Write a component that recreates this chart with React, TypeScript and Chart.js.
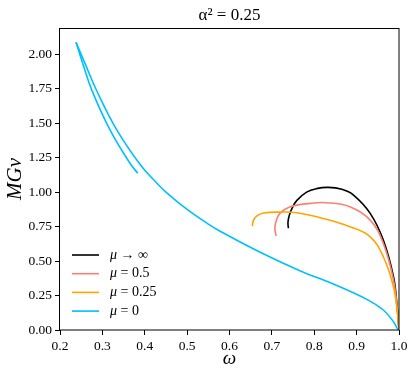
import { useEffect, useRef } from "react";
import { Chart, registerables } from "chart.js";

Chart.register(...registerables);

const titleText = "α² = 0.25";
const xLabel = "ω";
const yLabel = "MGv";
const seriesLabels = ["μ → ∞", "μ = 0.5", "μ = 0.25", "μ = 0"];
const seriesColors = ["#000000", "#FA8072", "#FFA500", "#00BFFF"];

// μ → ∞
const omegaInf = [0.739, 0.738, 0.741, 0.748, 0.759, 0.782, 0.805, 0.833, 0.865, 0.892, 0.932, 0.963, 0.987, 0.995, 1.0];
const mgvInf = [0.738, 0.78, 0.83, 0.885, 0.94, 1.0, 1.025, 1.034, 1.02, 0.98, 0.846, 0.652, 0.386, 0.193, 0.0];

// μ = 0.5
const omegaHalf = [0.71, 0.707, 0.711, 0.719, 0.743, 0.79, 0.829, 0.884, 0.932, 0.963, 0.987, 0.996, 1.0];
const mgvHalf = [0.682, 0.74, 0.8, 0.846, 0.894, 0.918, 0.923, 0.894, 0.797, 0.628, 0.362, 0.15, 0.0];

// μ = 0.25
const omegaQuarter = [0.654, 0.656, 0.664, 0.68, 0.719, 0.759, 0.821, 0.884, 0.932, 0.963, 0.987, 0.996, 1.0];
const mgvQuarter = [0.754, 0.79, 0.825, 0.848, 0.855, 0.85, 0.809, 0.749, 0.676, 0.531, 0.314, 0.13, 0.0];

// μ = 0, main branch (from ω = 1 up to the cusp)
const omegaZeroMain = [1.0, 0.996, 0.987, 0.963, 0.924, 0.845, 0.766, 0.676, 0.578, 0.55, 0.5, 0.45, 0.424, 0.389, 0.334, 0.2866, 0.2614, 0.2378];
const mgvZeroMain = [0.0, 0.012, 0.06, 0.145, 0.222, 0.333, 0.43, 0.558, 0.716, 0.768, 0.874, 1.0, 1.08, 1.2, 1.451, 1.735, 1.915, 2.087];
// μ = 0, inner branch (from the cusp back down)
const omegaZeroInner = [0.2378, 0.2535, 0.2748, 0.318, 0.3652, 0.3834];
const mgvZeroInner = [2.087, 1.935, 1.741, 1.451, 1.209, 1.137];

const xTicks = [0.2, 0.3, 0.4, 0.5, 0.6, 0.7, 0.8, 0.9, 1.0];
const yTicks = [0, 0.25, 0.5, 0.75, 1.0, 1.25, 1.5, 1.75, 2.0];
const xMin = 0.2;
const xMax = 1.0;
const yMin = 0;
const yMax = 2.19;

const FONT = "'Liberation Serif', 'DejaVu Serif', serif";

const toPoints = (xs: number[], ys: number[]) => xs.map((x, i) => ({ x, y: ys[i] }));

const framePlugin = {
  id: "frame",
  afterLayout(chart: any) {
    const ca = chart.chartArea;
    if (chart.titleBlock) {
      chart.titleBlock.left = ca.left;
      chart.titleBlock.right = ca.right;
    }
  },
  afterDatasetsDraw(chart: any) {
    const { ctx, chartArea: ca } = chart;
    ctx.save();
    ctx.strokeStyle = "#000";
    ctx.lineWidth = 1;
    ctx.strokeRect(Math.round(ca.left) - 0.5, Math.round(ca.top) + 0.5, Math.round(ca.right - ca.left) + 0.5, Math.round(ca.bottom - ca.top) - 0.5);
    ctx.restore();
  },
};

const legendPlugin = {
  id: "insideLegend",
  afterDraw(chart: any) {
    const { ctx, chartArea: ca } = chart;
    ctx.save();
    const rowGap = 18.7;
    const firstY = ca.bottom - 75;
    seriesLabels.forEach((label, i) => {
      const y = firstY + i * rowGap;
      ctx.strokeStyle = seriesColors[i];
      ctx.lineWidth = 1.6;
      ctx.beginPath();
      ctx.moveTo(ca.left + 12, y);
      ctx.lineTo(ca.left + 39, y);
      ctx.stroke();
      ctx.fillStyle = "#000";
      ctx.textBaseline = "middle";
      ctx.textAlign = "left";
      const mu = label.charAt(0);
      const rest = label.slice(1);
      ctx.font = `italic 14px ${FONT}`;
      const x0 = ca.left + 50;
      ctx.fillText(mu, x0, y);
      const w = ctx.measureText(mu).width;
      ctx.font = `14px ${FONT}`;
      ctx.fillText(rest, x0 + w, y);
    });
    ctx.restore();
  },
};

export default function App() {
  const ref = useRef<HTMLCanvasElement | null>(null);

  useEffect(() => {
    if (!ref.current) return;
    const lineDs = (label: string, color: string, data: any[], order: number) => ({
      label,
      data,
      borderColor: color,
      backgroundColor: color,
      borderWidth: 1.6,
      showLine: true,
      pointRadius: 0,
      pointHoverRadius: 0,
      tension: 0.4,
      fill: false,
      order,
    });
    const chart = new Chart(ref.current, {
      type: "scatter",
      data: {
        datasets: [
          lineDs(seriesLabels[0], seriesColors[0], toPoints(omegaInf, mgvInf), 4),
          lineDs(seriesLabels[1], seriesColors[1], toPoints(omegaHalf, mgvHalf), 3),
          lineDs(seriesLabels[2], seriesColors[2], toPoints(omegaQuarter, mgvQuarter), 2),
          lineDs(seriesLabels[3], seriesColors[3], toPoints(omegaZeroMain, mgvZeroMain), 1),
          lineDs(seriesLabels[3], seriesColors[3], toPoints(omegaZeroInner, mgvZeroInner), 1),
        ],
      },
      options: {
        animation: false,
        responsive: true,
        maintainAspectRatio: false,
        layout: { padding: { left: 0, right: 17, top: 0, bottom: 0 } },
        plugins: {
          legend: { display: false },
          tooltip: { enabled: false },
          title: {
            display: true,
            text: titleText,
            color: "#000",
            font: { family: FONT, size: 17, weight: "normal" },
            padding: { top: 5.2, bottom: 2.4 },
          },
        },
        scales: {
          x: {
            type: "linear",
            min: xMin,
            max: xMax,
            afterBuildTicks: (s: any) => {
              s.ticks = xTicks.map((v) => ({ value: v }));
            },
            afterFit: (s: any) => {
              s.height = 49;
            },
            ticks: {
              callback: (v: any) => Number(v).toFixed(1),
              color: "#000",
              font: { family: FONT, size: 13.5 },
              padding: 3,
              maxRotation: 0,
              autoSkip: false,
            },
            grid: { display: true, drawOnChartArea: false, drawTicks: true, tickLength: 5, color: "#000" },
            border: { display: false },
            title: {
              display: true,
              text: xLabel,
              color: "#000",
              font: { family: FONT, size: 19, style: "italic" },
              padding: { top: 0, bottom: 8.5 },
            },
          },
          y: {
            type: "linear",
            min: yMin,
            max: yMax,
            afterBuildTicks: (s: any) => {
              s.ticks = yTicks.map((v) => ({ value: v }));
            },
            afterFit: (s: any) => {
              s.width = 60;
            },
            ticks: {
              callback: (v: any) => Number(v).toFixed(2),
              color: "#000",
              font: { family: FONT, size: 13.5 },
              padding: 3,
              autoSkip: false,
            },
            grid: { display: true, drawOnChartArea: false, drawTicks: true, tickLength: 5, color: "#000" },
            border: { display: false },
            title: {
              display: true,
              text: yLabel,
              color: "#000",
              font: { family: FONT, size: 21, style: "italic" },
              padding: { top: 3, bottom: 0 },
            },
          },
        },
      },
      plugins: [framePlugin, legendPlugin],
    } as any);
    return () => chart.destroy();
  }, []);

  return (
    <div style={{ position: "absolute", left: 0, top: 0, width: 416, height: 379 }}>
      <canvas ref={ref} />
    </div>
  );
}
